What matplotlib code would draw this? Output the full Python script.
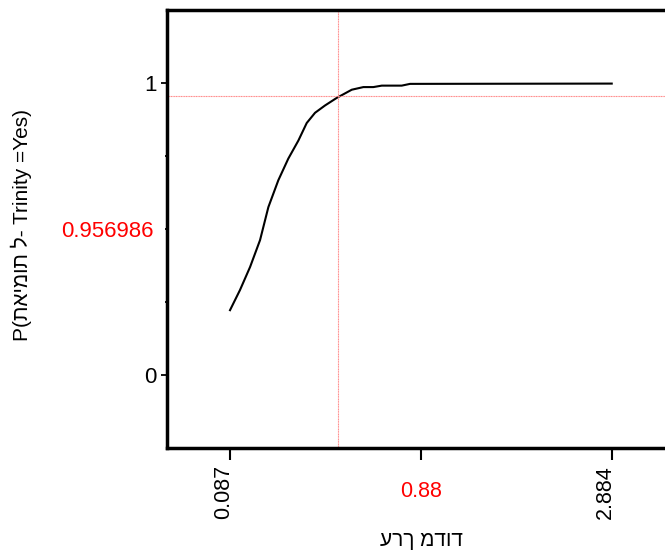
import numpy as np
import matplotlib
matplotlib.use("Agg")
import matplotlib.pyplot as plt
import matplotlib.transforms as mtransforms

plt.rcParams['font.family'] = ['Liberation Sans', 'DejaVu Sans']

# profile curve
measured = [0.087, 0.160, 0.234, 0.307, 0.368, 0.441, 0.514, 0.588, 0.649, 0.710,
            0.783, 0.869, 0.979, 1.064, 1.137, 1.199, 1.345, 1.406, 2.884]
prob_yes = [0.222, 0.291, 0.370, 0.462, 0.575, 0.667, 0.741, 0.803, 0.863, 0.898,
            0.923, 0.949, 0.977, 0.986, 0.986, 0.991, 0.991, 0.997, 0.998]

# current setting (crosshair)
current_x = 0.88
current_y = 0.956986

x_ticks = [0.087, (0.087 + 2.884) / 2, 2.884]
x_tick_labels = ['0.087', '0.88', '2.884']
y_ticks = [0, 1]
y_tick_labels = ['0', '1']
y_minor_ticks = [0.25, 0.5, 0.75]
y_minor_labels = ['', '0.956986', '']

fig = plt.figure(figsize=(6.65, 5.53), dpi=100)
ax = fig.add_axes([166.7 / 665, 105 / 553, 553.3 / 665, 438 / 553])

ax.plot(measured, prob_yes, color='black', lw=1.5)
ax.axvline(current_x, color='#ff8888', lw=0.8, ls=(0, (1, 0.5)))
ax.axhline(current_y, color='#ff8888', lw=0.8, ls=(0, (1, 0.5)))

ax.set_xlim(-0.377, -0.377 + 553.3 / 136.47)
ax.set_ylim(-0.25, 1.25)

for side in ['left', 'top', 'bottom']:
    ax.spines[side].set_linewidth(2.5)
ax.spines['right'].set_visible(False)

ax.set_yticks(y_ticks)
ax.set_yticklabels(y_tick_labels)
ax.set_yticks(y_minor_ticks, minor=True)
ax.set_yticklabels(y_minor_labels, minor=True)
ax.tick_params(axis='y', which='major', length=4, width=1.3, labelsize=16, pad=3)
ax.tick_params(axis='y', which='minor', length=1.5, width=1.3, labelsize=16, pad=8)
ax.get_yticklabels(minor=True)[1].set_color('red')

ax.set_xticks(x_ticks)
ax.set_xticklabels(x_tick_labels)
ax.tick_params(axis='x', length=8.5, width=1.5, labelsize=15.5, pad=23)
shift = mtransforms.ScaledTranslation(-6 / 100, 0, fig.dpi_scale_trans)
for i, lbl in enumerate(ax.get_xticklabels()):
    lbl.set_va('center')
    if i == 1:
        lbl.set_color('red')
    else:
        lbl.set_rotation(90)
        lbl.set_transform(lbl.get_transform() + shift)

ax.set_xlabel('ערך מדוד', fontsize=15)
ax.xaxis.set_label_coords((421 - 166.7) / 553.3, -0.19)
ax.set_ylabel('P(תאימות ל- Trinity =Yes)', fontsize=15)
ax.yaxis.set_label_coords(-0.243, 0.51)

fig.savefig('out.png', dpi=100)
